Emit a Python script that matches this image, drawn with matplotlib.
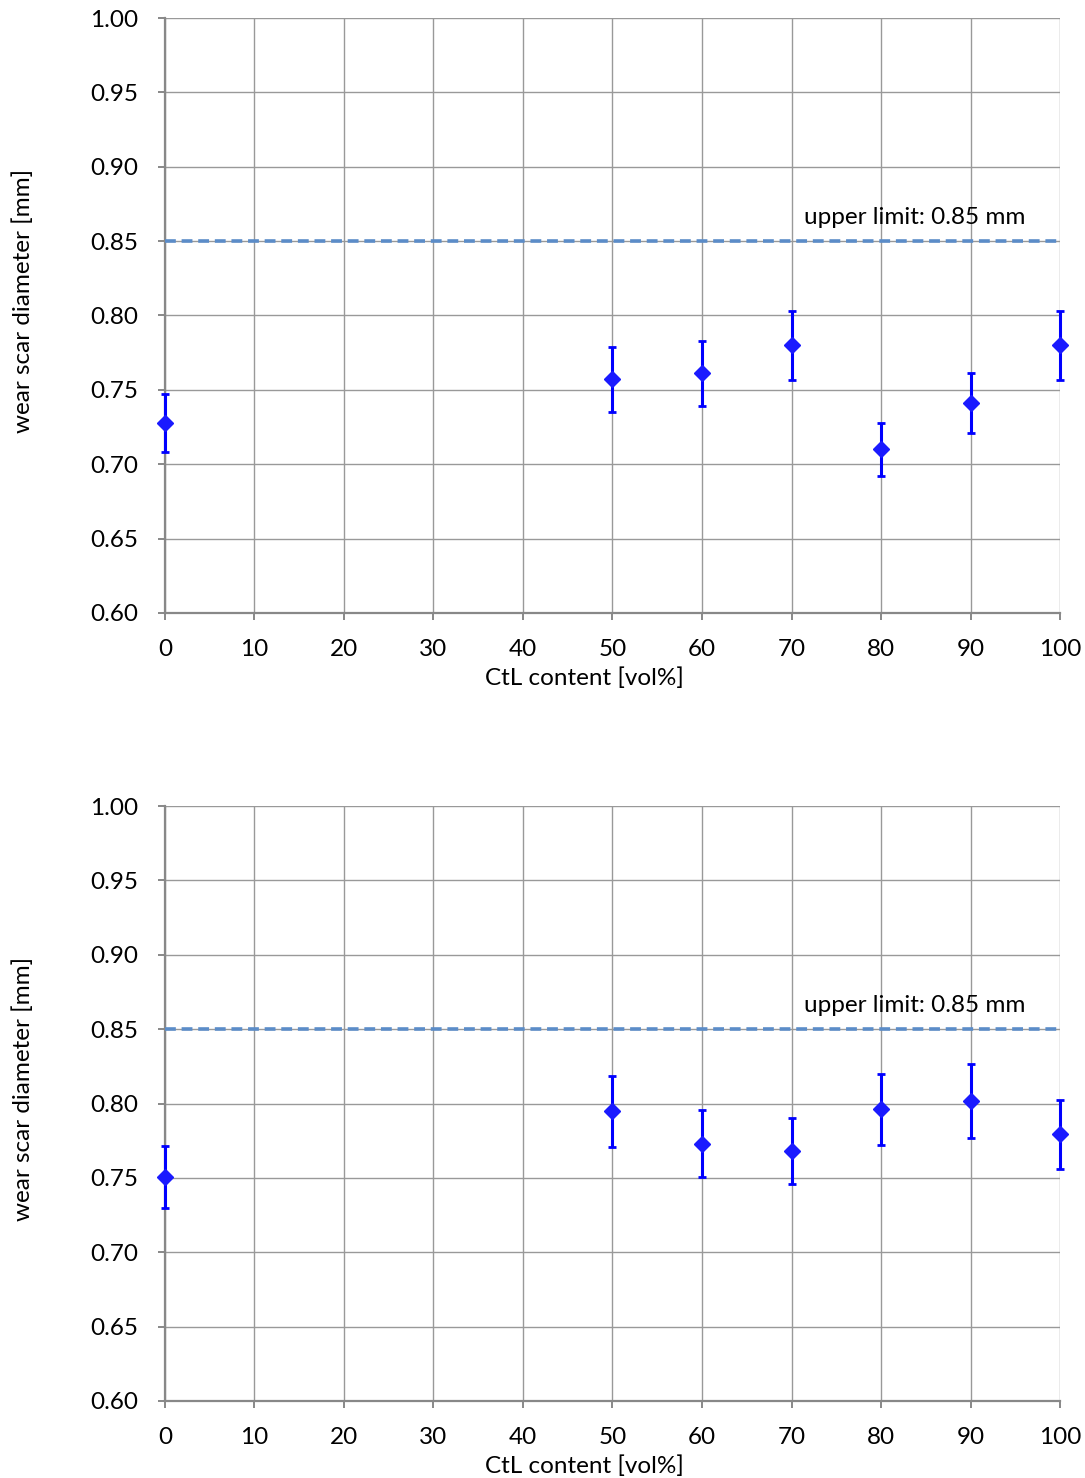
import matplotlib.pyplot as plt
import numpy as np

plt.rcParams['font.family'] = ['Lato', 'DejaVu Sans']

ctl = [0, 50, 60, 70, 80, 90, 100]

# wear scar diameters [mm] with std deviation
wsd_top = [0.728, 0.757, 0.761, 0.780, 0.710, 0.741, 0.780]
err_top = [0.0195, 0.0217, 0.0216, 0.0232, 0.018, 0.0203, 0.0232]

wsd_bottom = [0.7505, 0.7948, 0.7731, 0.7682, 0.796, 0.8018, 0.7794]
err_bottom = [0.021, 0.024, 0.0227, 0.022, 0.024, 0.0247, 0.0232]

upper_limit = 0.85
xticks = np.arange(0, 101, 10)
yticks = np.arange(0.60, 1.001, 0.05)

fs = 17.5

fig = plt.figure(figsize=(10.85, 14.78), dpi=100)
ax1 = fig.add_axes([0.152, 0.5853, 0.825, 0.4025])
ax2 = fig.add_axes([0.152, 0.0521, 0.825, 0.4025])

for ax, vals, errs in [(ax1, wsd_top, err_top), (ax2, wsd_bottom, err_bottom)]:
    ax.set_xlim(0, 100)
    ax.set_ylim(0.60, 1.00)
    ax.set_xticks(xticks)
    ax.set_yticks(yticks)
    ax.set_yticklabels(['%.2f' % v for v in yticks])
    ax.grid(True, color='#999999', linewidth=1.0)
    ax.set_axisbelow(True)
    for s in ['top', 'right']:
        ax.spines[s].set_visible(False)
    for s in ['left', 'bottom']:
        ax.spines[s].set_color('#888888')
        ax.spines[s].set_linewidth(1.6)
        ax.spines[s].set_zorder(1)
    ax.tick_params(axis='both', direction='out', length=5, width=1.4,
                   color='#888888', labelsize=fs, labelcolor='black')
    ax.tick_params(axis='x', pad=14)
    ax.tick_params(axis='y', pad=14)

    ax.axhline(upper_limit, color='#5B8CC8', linewidth=2.6,
               dashes=(3, 1.6), zorder=3)
    ax.text(71.4, 0.866, 'upper limit: 0.85 mm', fontsize=fs,
            ha='left', va='center', zorder=4)

    ax.errorbar(ctl, vals, yerr=errs, fmt='D', color='#0000FF',
                markerfacecolor='#1a1aff', markeredgecolor='#1a1aff',
                markersize=8.3, elinewidth=2.2, capsize=3, capthick=2,
                zorder=5, clip_on=False)

    ax.set_xlabel('CtL content [vol%]', fontsize=fs)
    ax.set_ylabel('wear scar diameter [mm]', fontsize=fs)
    ax.xaxis.set_label_coords(0.469, -0.092)
    ax.yaxis.set_label_coords(-0.146, 0.524)

fig.savefig('out.png', dpi=100, facecolor='white')
